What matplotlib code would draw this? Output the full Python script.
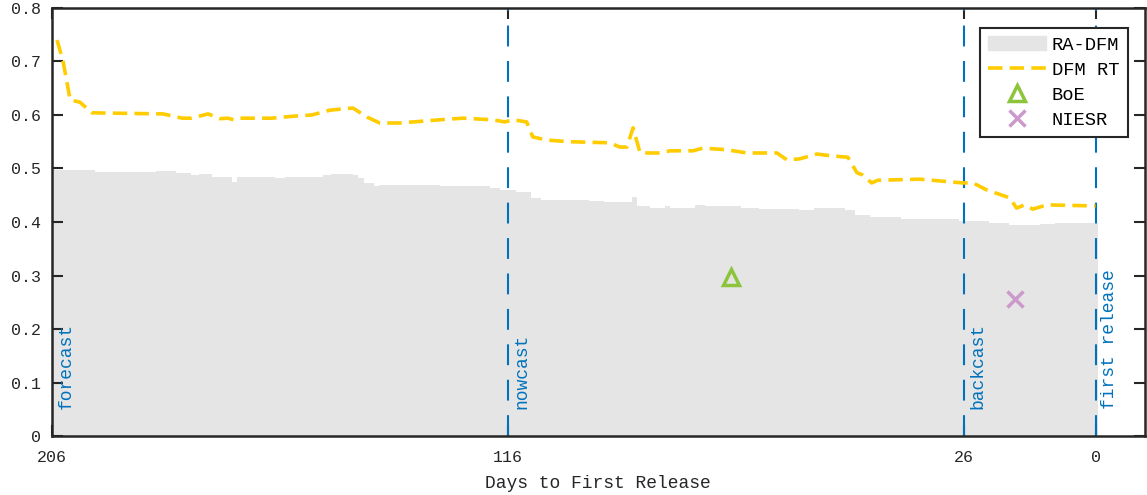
import matplotlib.pyplot as plt
from matplotlib.patches import Patch
from matplotlib.lines import Line2D

plt.rcParams['font.family'] = ['Liberation Mono', 'DejaVu Sans Mono']

# RA-DFM (grey area), step changes: day where a level starts, level
ra_days = [206, 197.5, 185.5, 181.5, 178.5, 177, 174.5, 170.5, 169.5, 162, 160,
           152.5, 151, 146.5, 145.5, 144.5, 142.5, 141.5, 129.5, 119.5, 117.5,
           114.5, 111.5, 109.5, 100, 97, 91.5, 90.5, 88, 85, 84, 79, 77, 70,
           66.5, 58.5, 55.5, 49.5, 47.5, 44.5, 38.5, 27, 21, 17, 11, 8, -0.5]
ra_vals = [0.497, 0.494, 0.495, 0.491, 0.487, 0.489, 0.485, 0.475, 0.485, 0.482,
           0.484, 0.488, 0.490, 0.488, 0.482, 0.472, 0.467, 0.469, 0.467, 0.463,
           0.460, 0.457, 0.444, 0.442, 0.440, 0.438, 0.446, 0.429, 0.427, 0.430,
           0.427, 0.432, 0.429, 0.427, 0.424, 0.422, 0.426, 0.422, 0.413, 0.409,
           0.406, 0.402, 0.399, 0.394, 0.396, 0.398, 0.398]

# DFM real-time line
rt_days = [205, 203.8, 202.4, 200.5, 198.1, 184.1, 180.3, 178.4, 175.2, 172.8,
           171.3, 170.1, 168.9, 162.6, 158, 154.7, 151.1, 146.6, 143.8, 141.3,
           137.3, 129.4, 124.9, 119, 116.6, 115, 112.3, 111.1, 108.3, 103.8,
           95.9, 93.9, 92.5, 91.3, 89.9, 86, 84, 79.5, 77.5, 72.8, 68.8, 62.9,
           60.9, 58.4, 55, 52.5, 48.9, 47.1, 46, 44.2, 43, 34.7, 26.2, 24.2,
           21.5, 16.9, 15.6, 14, 12.4, 9.6, 0]
rt_vals = [0.740, 0.700, 0.628, 0.624, 0.604, 0.602, 0.594, 0.594, 0.602, 0.593,
           0.594, 0.591, 0.594, 0.594, 0.598, 0.600, 0.609, 0.613, 0.596, 0.585,
           0.585, 0.591, 0.594, 0.591, 0.587, 0.591, 0.587, 0.559, 0.553, 0.550,
           0.548, 0.540, 0.540, 0.576, 0.529, 0.529, 0.533, 0.533, 0.538, 0.535,
           0.529, 0.529, 0.516, 0.518, 0.527, 0.524, 0.521, 0.492, 0.488, 0.473,
           0.478, 0.480, 0.473, 0.473, 0.460, 0.445, 0.426, 0.432, 0.424, 0.432,
           0.430]

boe_day, boe_val = [72], [0.297]
niesr_day, niesr_val = [16], [0.256]

phase_days = [206, 116, 26, 0]
phase_labels = ['forecast', 'nowcast', 'backcast', 'first release']
blue = '#0072BD'
dark = '#262626'

fig = plt.figure(figsize=(11.47, 4.95), dpi=100)
ax = fig.add_axes([0.0453, 0.119, 0.9527, 0.865])

ax.fill_between(ra_days, ra_vals, step='post', color='#e5e5e5', lw=0, zorder=1)
for d in phase_days[1:]:
    ax.axvline(d, color=blue, lw=1.5, dashes=(10, 7), zorder=2)
for d, lab in zip(phase_days, phase_labels):
    ax.text(d - 2.8, 0.05, lab, rotation=90, color=blue, fontsize=13,
            ha='center', va='bottom', zorder=3)
ax.plot(rt_days, rt_vals, color='#ffcc00', lw=2.6, dashes=(4, 2), zorder=4)
ax.plot(boe_day, boe_val, marker='^', ms=12, mfc='none', mec='#8cc43c',
        mew=2.5, ls='none', zorder=5)
ax.plot(niesr_day, niesr_val, marker='x', ms=11, mec='#cc99cc', mew=2.5,
        ls='none', zorder=5)

ax.set_xlim(206, -9.7)
ax.set_ylim(0, 0.8)
ax.set_xticks(phase_days)
ax.set_xticklabels([str(d) for d in phase_days])
ax.set_yticks([i / 10 for i in range(9)])
ax.set_yticklabels(['0'] + ['%.1f' % (i / 10) for i in range(1, 9)])
ax.tick_params(direction='in', length=8, width=1.5, colors=dark,
               labelsize=12, top=True, right=True)
ax.tick_params(axis='x', pad=10)
ax.tick_params(axis='y', pad=8)
for s in ax.spines.values():
    s.set_color(dark)
    s.set_linewidth(1.8)
ax.set_xlabel('Days to First Release', fontsize=13, color=dark, labelpad=7)

handles = [Patch(color='#e5e5e5'),
           Line2D([], [], color='#ffcc00', lw=2.6, dashes=(4, 2)),
           Line2D([], [], marker='^', ms=12, mfc='none', mec='#8cc43c',
                  mew=2.5, ls='none'),
           Line2D([], [], marker='x', ms=11, mec='#cc99cc', mew=2.5, ls='none')]
leg = ax.legend(handles, ['RA-DFM', 'DFM RT', 'BoE', 'NIESR'], loc='upper right',
                bbox_to_anchor=(0.9845, 0.953), borderaxespad=0, fontsize=13.5,
                fancybox=False, framealpha=1, edgecolor=dark, handlelength=3.1,
                handletextpad=0.3, borderpad=0.45, labelspacing=0.42)
leg.get_frame().set_linewidth(1.5)

fig.savefig('out.png', dpi=100)
